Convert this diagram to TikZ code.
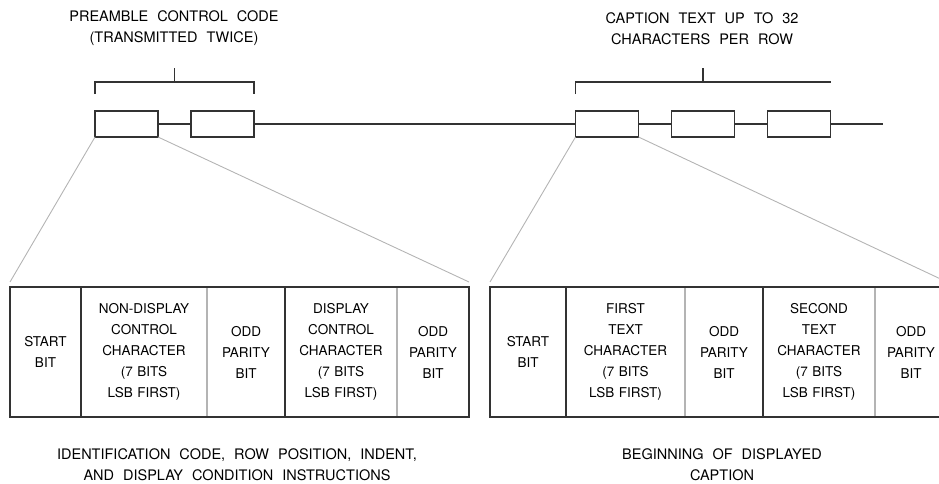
\documentclass[tikz,border=0pt]{standalone}
\usepackage{fontspec}
\setmainfont{TeX Gyre Heros}
\usetikzlibrary{positioning,calc}
\definecolor{FrameInk}{HTML}{333333}
\definecolor{ZoomGray}{HTML}{B4B4B4}
\newcommand{\celltext}{\fontsize{13.5}{21}\selectfont}
\newcommand{\captext}{\fontsize{14.5}{21}\selectfont\spaceskip=0.62em plus 0.1em}

\begin{document}
\begin{tikzpicture}[x=1pt,y=-1pt]
  \path[use as bounding box] (0,0) rectangle (939,483);
  \clip (0,0) rectangle (939,483);

  \tikzset{
    wordBox/.style={
      draw=FrameInk,
      line width=1.3pt,
      minimum width=63pt,
      minimum height=26pt,
      inner sep=0pt,
      outer sep=0pt
    },
    bitCell/.style={
      minimum height=130pt,
      text width=#1,
      inner sep=0pt,
      outer sep=0pt,
      align=center,
      font=\celltext
    },
    frameLine/.style={
      draw=FrameInk,
      line width=1.3pt
    },
    splitLine/.style={
      draw=ZoomGray,
      line width=1.1pt
    },
    zoomLine/.style={
      draw=ZoomGray,
      line width=.9pt
    },
    groupLabel/.style={
      align=center,
      font=\captext,
      inner sep=0pt
    }
  }

  % transmitted words on the line
  \node[wordBox] (pre1) at (126.5,124) {};
  \node[wordBox,right=33pt of pre1] (pre2) {};
  \node[wordBox] (cap1) at (607,124) {};
  \node[wordBox,right=33pt of cap1] (cap2) {};
  \node[wordBox,right=33pt of cap2] (cap3) {};
  \coordinate (lineEnd) at (883,124);

  \draw[frameLine] (pre1.east) -- (pre2.west);
  \draw[frameLine] (pre2.east) -- (cap1.west);
  \draw[frameLine] (cap1.east) -- (cap2.west);
  \draw[frameLine] (cap2.east) -- (cap3.west);
  \draw[frameLine] (cap3.east) -- (lineEnd);

  % brackets
  \draw[frameLine] ([yshift=17pt]pre1.north west) -- ([yshift=29pt]pre1.north west)
    -| ([yshift=17pt]pre2.north east);
  \draw[frameLine] ($([yshift=29pt]pre1.north west)!.5!([yshift=29pt]pre2.north east)$)
    -- ++(0,-14) coordinate (preTick);
  \draw[frameLine] ([yshift=17pt]cap1.north west) -- ([yshift=29pt]cap1.north west)
    -- ([yshift=29pt]cap3.north east);
  \draw[frameLine] ($([yshift=29pt]cap1.north west)!.5!([yshift=29pt]cap3.north east)$)
    -- ++(0,-14) coordinate (capTick);

  \node[groupLabel] (preLabel) at (174,28.5)
    {PREAMBLE CONTROL CODE\\(TRANSMITTED TWICE)};
  \node[groupLabel] (capLabel) at (702,28.5)
    {CAPTION TEXT UP TO 32\\CHARACTERS PER ROW};

  % left table: preamble code word
  \node[bitCell=71pt,anchor=north west] (lStart) at (10,287) {START\\BIT};
  \node[bitCell=126pt,right=0pt of lStart] (lChar1)
    {NON-DISPLAY\\CONTROL\\CHARACTER\\(7 BITS\\LSB FIRST)};
  \node[bitCell=78pt,right=0pt of lChar1] (lPar1) {ODD\\PARITY\\BIT};
  \node[bitCell=112pt,right=0pt of lPar1] (lChar2)
    {DISPLAY\\CONTROL\\CHARACTER\\(7 BITS\\LSB FIRST)};
  \node[bitCell=72pt,right=0pt of lChar2] (lPar2) {ODD\\PARITY\\BIT};

  \draw[splitLine] (lChar1.north east) -- (lChar1.south east);
  \draw[splitLine] (lChar2.north east) -- (lChar2.south east);
  \draw[frameLine] (lStart.north west) rectangle (lPar2.south east);
  \draw[frameLine] (lStart.north east) -- (lStart.south east);
  \draw[frameLine] (lPar1.north east) -- (lPar1.south east);

  % right table: caption code word
  \node[bitCell=76pt,anchor=north west] (rStart) at (490,287) {START\\BIT};
  \node[bitCell=119pt,right=0pt of rStart] (rChar1)
    {FIRST\\TEXT\\CHARACTER\\(7 BITS\\LSB FIRST)};
  \node[bitCell=78pt,right=0pt of rChar1] (rPar1) {ODD\\PARITY\\BIT};
  \node[bitCell=112pt,right=0pt of rPar1] (rChar2)
    {SECOND\\TEXT\\CHARACTER\\(7 BITS\\LSB FIRST)};
  \node[bitCell=72pt,right=0pt of rChar2] (rPar2) {ODD\\PARITY\\BIT};

  \draw[splitLine] (rChar1.north east) -- (rChar1.south east);
  \draw[splitLine] (rChar2.north east) -- (rChar2.south east);
  \draw[frameLine] (rStart.north west) rectangle (rPar2.south east);
  \draw[frameLine] (rStart.north east) -- (rStart.south east);
  \draw[frameLine] (rPar1.north east) -- (rPar1.south east);

  % zoom lines from word to table
  \draw[zoomLine] (pre1.south west) -- ([yshift=5pt]lStart.north west);
  \draw[zoomLine] (pre1.south east) -- ([yshift=5pt]lPar2.north east);
  \draw[zoomLine] (cap1.south west) -- ([yshift=5pt]rStart.north west);
  \draw[zoomLine] (cap1.south east) -- ([yshift=5pt]rPar2.north east);

  \node[groupLabel] (lCaption) at (237,464.5)
    {IDENTIFICATION CODE, ROW POSITION, INDENT,\\AND DISPLAY CONDITION INSTRUCTIONS};
  \node[groupLabel] (rCaption) at (722,464.5)
    {BEGINNING OF DISPLAYED\\CAPTION};
\end{tikzpicture}
\end{document}
